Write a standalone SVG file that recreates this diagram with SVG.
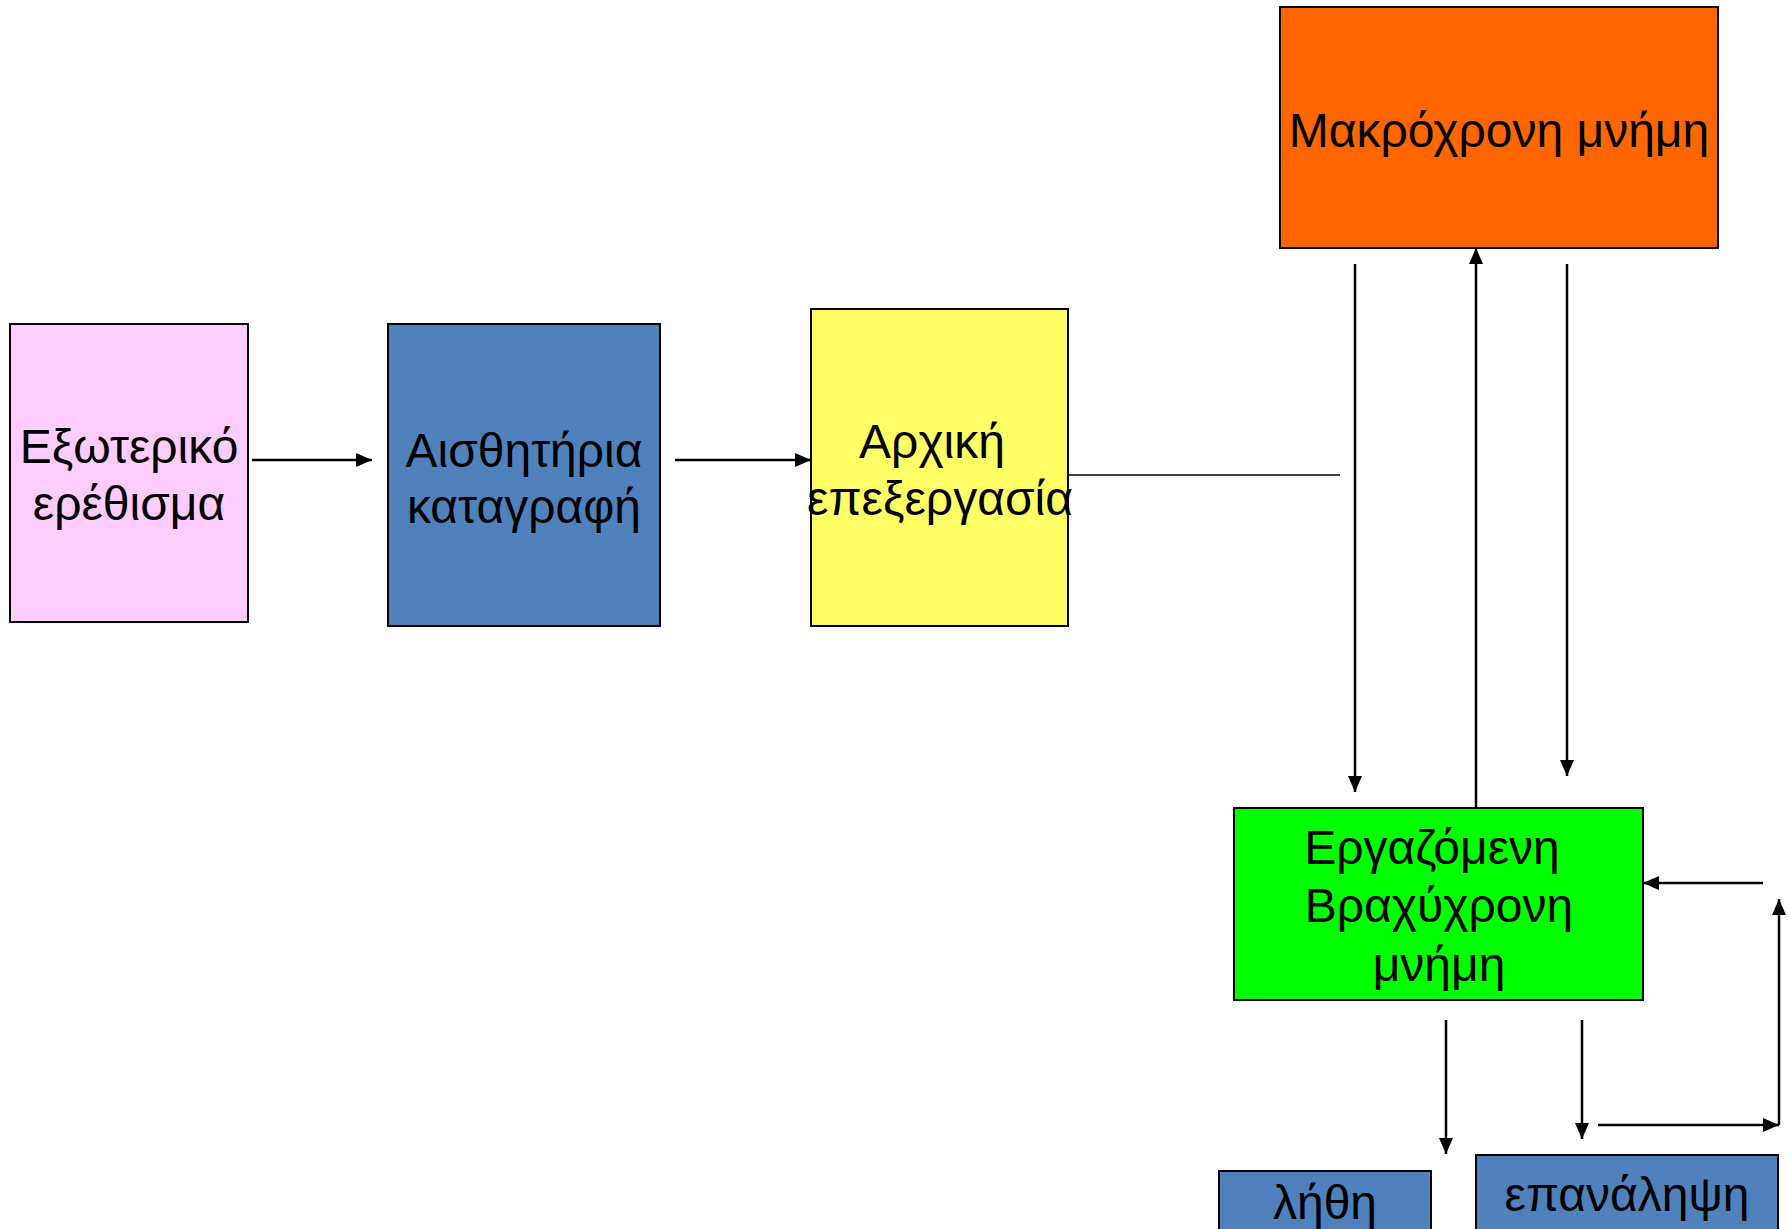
<svg xmlns="http://www.w3.org/2000/svg" width="1789" height="1229" viewBox="0 0 1789 1229">
<defs>
<style>
.box{stroke:#000;stroke-width:2}
.t{font-family:"Liberation Sans",Arial,sans-serif;font-size:48px;fill:#000;text-anchor:middle}
.c{stroke:#000;stroke-width:2.5;fill:none}
.thin{stroke:#000;stroke-width:1.5;fill:none}
</style>
<marker id="ah" viewBox="0 0 16 14" refX="16" refY="7" markerWidth="16" markerHeight="14" markerUnits="userSpaceOnUse" orient="auto">
<path d="M0,0 L16,7 L0,14 Z" fill="#000"/>
</marker>
</defs>
<rect width="1789" height="1229" fill="#fff"/>
<g id="connectors">
<line class="c" x1="252" y1="460" x2="372" y2="460" marker-end="url(#ah)"/>
<line class="c" x1="675" y1="460" x2="811" y2="460" marker-end="url(#ah)"/>
<line class="thin" x1="1068" y1="475" x2="1340" y2="475"/>
<line class="c" x1="1355" y1="264" x2="1355" y2="792" marker-end="url(#ah)"/>
<line class="c" x1="1476" y1="808" x2="1476" y2="248" marker-end="url(#ah)"/>
<line class="c" x1="1567" y1="264" x2="1567" y2="776" marker-end="url(#ah)"/>
<line class="c" x1="1763" y1="883" x2="1643" y2="883" marker-end="url(#ah)"/>
<line class="c" x1="1779" y1="1125" x2="1779" y2="899" marker-end="url(#ah)"/>
<line class="c" x1="1598" y1="1125" x2="1779" y2="1125" marker-end="url(#ah)"/>
<line class="c" x1="1446" y1="1020" x2="1446" y2="1154" marker-end="url(#ah)"/>
<line class="c" x1="1582" y1="1020" x2="1582" y2="1139" marker-end="url(#ah)"/>
</g>
<g id="n-stimulus">
<rect class="box" x="10" y="324" width="238" height="298" fill="#FFCCFF"/>
<text class="t" x="129" y="463">Εξωτερικό</text>
<text class="t" x="129" y="520">ερέθισμα</text>
</g>
<g id="n-sensory">
<rect class="box" x="388" y="324" width="272" height="302" fill="#4F81BD"/>
<text class="t" x="524" y="467">Αισθητήρια</text>
<text class="t" x="524" y="523">καταγραφή</text>
</g>
<g id="n-initial">
<rect class="box" x="811" y="309" width="257" height="317" fill="#FFFF66"/>
<text class="t" x="932" y="458">Αρχική</text>
<text class="t" x="940" y="515">επεξεργασία</text>
</g>
<g id="n-longterm">
<rect class="box" x="1280" y="7" width="438" height="241" fill="#FF6600"/>
<text class="t" x="1499" y="147">Μακρόχρονη μνήμη</text>
</g>
<g id="n-working">
<rect class="box" x="1234" y="808" width="409" height="192" fill="#00FF00"/>
<text class="t" x="1432" y="864">Εργαζόμενη</text>
<text class="t" x="1439" y="922">Βραχύχρονη</text>
<text class="t" x="1439" y="981">μνήμη</text>
</g>
<g id="n-forget">
<rect class="box" x="1219" y="1171" width="212" height="80" fill="#4F81BD"/>
<text class="t" x="1325" y="1219">λήθη</text>
</g>
<g id="n-repeat">
<rect class="box" x="1476" y="1155" width="302" height="90" fill="#4F81BD"/>
<text class="t" x="1627" y="1211">επανάληψη</text>
</g>
</svg>
